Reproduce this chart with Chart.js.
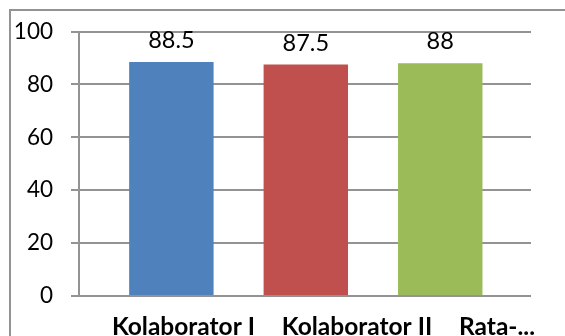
<!DOCTYPE html>
<html>
<head>
<meta charset="utf-8">
<script src="https://cdn.jsdelivr.net/npm/chart.js@4.4.1/dist/chart.umd.min.js"></script>
<style>
  html, body { margin: 0; padding: 0; width: 565px; height: 336px; overflow: hidden; background: #fff; }
  #frame { position: absolute; left: 9px; top: 9px; width: 620px; height: 400px; border: 2px solid #939393; box-sizing: border-box; }
  #c { position: absolute; left: 0; top: 0; }
</style>
</head>
<body>
<div id="frame"></div>
<canvas id="c" width="565" height="336"></canvas>
<script>
// Scores per participant and their average
const categories = ['Kolaborator I', 'Kolaborator II', 'Rata-...'];
const values = [88.5, 87.5, 88];
const barColors = ['#4F81BD', '#C0504D', '#9BBB59'];
const yTicks = [0, 20, 40, 60, 80, 100];

const FONT = 'Lato, "Liberation Sans", sans-serif';

// Writes each bar's value just above it
const valueLabels = {
  id: 'valueLabels',
  afterDatasetsDraw(chart) {
    const ctx = chart.ctx;
    const meta = chart.getDatasetMeta(0);
    ctx.save();
    ctx.font = '23.5px ' + FONT;
    ctx.fillStyle = '#000';
    ctx.textAlign = 'center';
    ctx.textBaseline = 'alphabetic';
    meta.data.forEach((bar, i) => {
      ctx.fillText(String(values[i]), bar.x, bar.y - 14);
    });
    ctx.restore();
  }
};

new Chart(document.getElementById('c'), {
  type: 'bar',
  data: {
    datasets: [{
      data: categories.map((c, i) => ({ x: i, y: values[i] })),
      backgroundColor: barColors,
      borderWidth: 0,
      barPercentage: 1,
      categoryPercentage: 0.628,
      xAxisID: 'x'
    }]
  },
  options: {
    responsive: false,
    animation: false,
    events: [],
    layout: { padding: { top: 29, right: 34, left: 0, bottom: 0 } },
    plugins: { legend: { display: false }, tooltip: { enabled: false } },
    scales: {
      // bar positions
      x: {
        type: 'linear',
        display: false,
        min: -0.687,
        max: 2.675,
        offset: false,
        afterBuildTicks(axis) {
          axis.ticks = categories.map((c, i) => ({ value: i }));
        }
      },
      // category names under the bars
      names: {
        type: 'linear',
        position: 'bottom',
        min: -0.687,
        max: 2.675,
        offset: false,
        grid: { display: false, drawTicks: false },
        border: { display: false },
        afterBuildTicks(axis) {
          axis.ticks = [0.09, 1.381, 2.422].map(v => ({ value: v }));
        },
        afterFit(axis) { axis.height = 40; axis.paddingLeft = 0; axis.paddingRight = 0; },
        ticks: {
          autoSkip: false,
          maxRotation: 0,
          padding: 16,
          color: '#000',
          font: { family: FONT, size: 24.5, weight: 'bold' },
          callback(value, index) { return categories[index]; }
        }
      },
      y: {
        min: 0,
        max: 100,
        afterBuildTicks(axis) {
          axis.ticks = yTicks.map(v => ({ value: v }));
        },
        afterFit(axis) { axis.width = 79; },
        grid: { color: '#939393', lineWidth: 2, tickLength: 8, drawTicks: true },
        border: { display: true, color: '#939393', width: 2 },
        ticks: {
          padding: 18,
          color: '#000',
          font: { family: FONT, size: 22.5 }
        }
      }
    }
  },
  plugins: [valueLabels]
});
</script>
</body>
</html>
